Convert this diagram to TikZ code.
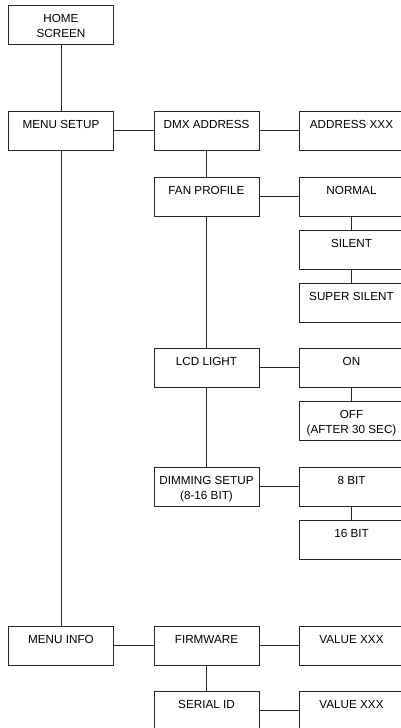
\documentclass[tikz,border=0pt]{standalone}
\usepackage{fontspec}
\setmainfont{Liberation Sans}
\newcommand{\boxtext}[1]{\parbox[c][39pt][t]{105pt}{\centering\rule{0pt}{17.8pt}#1}}
\tikzset{
  menubox/.style={draw=black!85, line width=0.8pt, inner sep=0pt, minimum width=105pt, minimum height=39pt, font=\fontsize{11.7}{14.5}\selectfont},
  conn/.style={draw=black!85, line width=0.8pt}
}
\begin{document}
\begin{tikzpicture}[x=1pt,y=1pt]
\useasboundingbox (0,0) rectangle (400,-728);
% column 1
\node[menubox] (home) at (61,-24.5) {\boxtext{HOME\\SCREEN}};
\node[menubox] (setup) at (61,-130.5) {\boxtext{MENU SETUP}};
\node[menubox] (info) at (61,-645.5) {\boxtext{MENU INFO}};
% column 2
\node[menubox] (dmx) at (206.5,-130.5) {\boxtext{DMX ADDRESS}};
\node[menubox] (fan) at (206.5,-196.5) {\boxtext{FAN PROFILE}};
\node[menubox] (lcd) at (206.5,-367.5) {\boxtext{LCD LIGHT}};
\node[menubox] (dim) at (206.5,-486.5) {\boxtext{DIMMING SETUP\\(8-16 BIT)}};
\node[menubox] (firm) at (206.5,-645.5) {\boxtext{FIRMWARE}};
\node[menubox] (serial) at (206.5,-710.5) {\boxtext{SERIAL ID}};
% column 3
\node[menubox] (addr) at (351.5,-130.5) {\boxtext{ADDRESS XXX}};
\node[menubox] (normal) at (351.5,-196.5) {\boxtext{NORMAL}};
\node[menubox] (silent) at (351.5,-249.5) {\boxtext{SILENT}};
\node[menubox] (super) at (351.5,-302.5) {\boxtext{SUPER SILENT}};
\node[menubox] (on) at (351.5,-367.5) {\boxtext{ON}};
\node[menubox] (off) at (351.5,-420.5) {\boxtext{OFF\\(AFTER 30 SEC)}};
\node[menubox] (b8) at (351.5,-486.5) {\boxtext{8 BIT}};
\node[menubox] (b16) at (351.5,-539.5) {\boxtext{16 BIT}};
\node[menubox] (val1) at (351.5,-645.5) {\boxtext{VALUE XXX}};
\node[menubox] (val2) at (351.5,-710.5) {\boxtext{VALUE XXX}};
% connectors
\draw[conn] (home.south) -- (setup.north);
\draw[conn] (setup.east) -- (dmx.west);
\draw[conn] (dmx.east) -- (addr.west);
\draw[conn] (dmx.south) -- (fan.north);
\draw[conn] (fan.east) -- (normal.west);
\draw[conn] (normal.south) -- (silent.north);
\draw[conn] (silent.south) -- (super.north);
\draw[conn] (fan.south) -- (lcd.north);
\draw[conn] (lcd.east) -- (on.west);
\draw[conn] (on.south) -- (off.north);
\draw[conn] (lcd.south) -- (dim.north);
\draw[conn] (dim.east) -- (b8.west);
\draw[conn] (b8.south) -- (b16.north);
\draw[conn] (setup.south) -- (info.north);
\draw[conn] (info.east) -- (firm.west);
\draw[conn] (firm.east) -- (val1.west);
\draw[conn] (firm.south) -- (serial.north);
\draw[conn] (serial.east) -- (val2.west);
\end{tikzpicture}
\end{document}
